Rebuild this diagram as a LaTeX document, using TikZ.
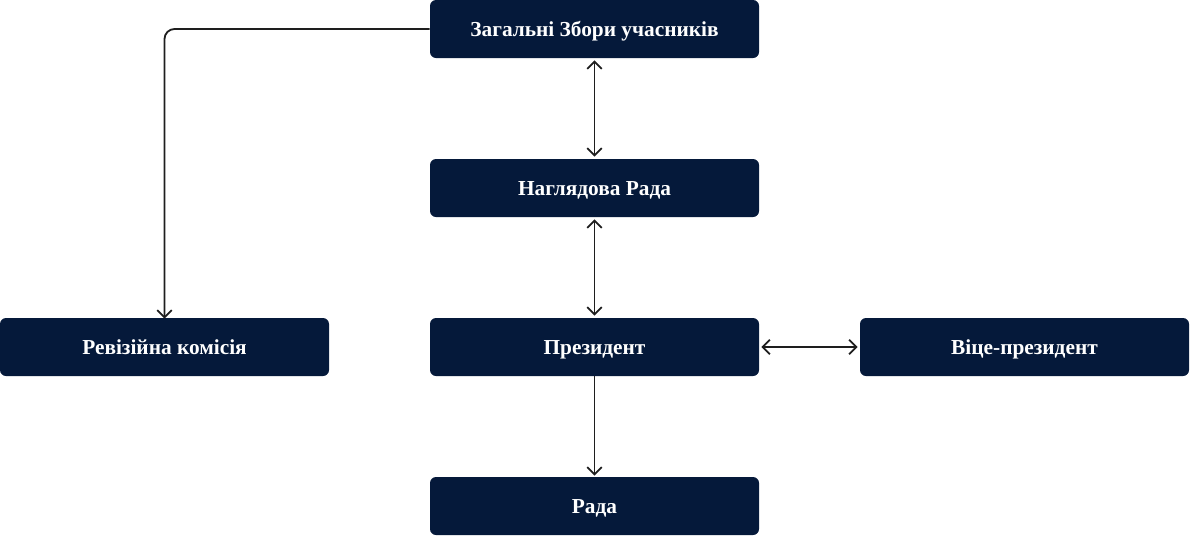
\documentclass[tikz,border=0pt]{standalone}
\usepackage{fontspec}
\setmainfont{Liberation Serif}
\usetikzlibrary{arrows.meta}
\definecolor{boxnavy}{HTML}{05193A}
\definecolor{linegray}{HTML}{1E1E1E}
\tikzset{
  x=0.75pt, y=-0.75pt,
  tip/.style={},
  orgbox/.style={fill=boxnavy, rounded corners=4.5pt, minimum width=246.75pt, minimum height=43.5pt, inner sep=0pt, text=white, text height=11pt, text depth=0pt, font=\bfseries\fontsize{16pt}{18pt}\selectfont},
  conn/.style={draw=linegray, line width=1.35pt, -{Straight Barb[length=5.5pt,width=11pt,line width=1.35pt]}},
  dconn/.style={conn, {Straight Barb[length=5.5pt,width=11pt,line width=1.35pt]}-{Straight Barb[length=5.5pt,width=11pt,line width=1.35pt]}}
}
\begin{document}
\begin{tikzpicture}
\useasboundingbox (0,0) rectangle (1190,536);
\node[orgbox] (zz) at (594.5,29) {Загальні Збори учасників};
\node[orgbox] (nr) at (594.5,188) {Наглядова Рада};
\node[orgbox] (pr) at (594.5,347) {Президент};
\node[orgbox] (rada) at (594.5,506) {Рада};
\node[orgbox] (rk) at (164.5,347) {Ревізійна комісія};
\node[orgbox] (vp) at (1024.5,347) {Віце-президент};
\draw[conn, rounded corners=7.5pt] (zz.west) -| ([yshift=-0.75pt]rk.north);
\draw[dconn] ([yshift=-1.5pt]zz.south) -- ([yshift=1.5pt]nr.north);
\draw[dconn] ([yshift=-1.5pt]nr.south) -- ([yshift=1.5pt]pr.north);
\draw[conn] (pr.south) -- ([yshift=0.75pt]rada.north);
\draw[dconn] ([xshift=1.5pt]pr.east) -- ([xshift=-1.5pt]vp.west);
\end{tikzpicture}
\end{document}
